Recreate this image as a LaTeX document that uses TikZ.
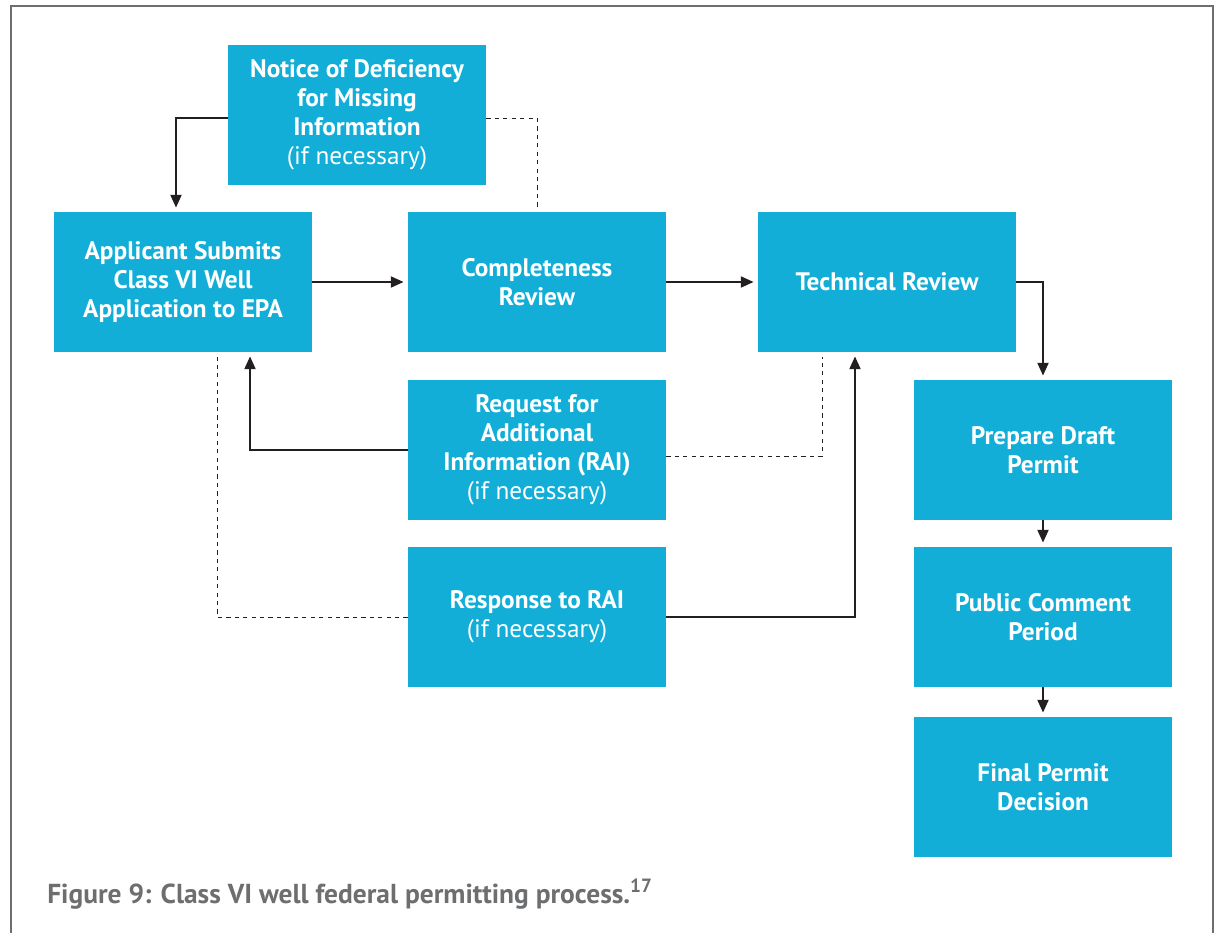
\documentclass[tikz,border=0pt]{standalone}
\usepackage{fontspec}
\setmainfont{PT Sans}
\usepackage{xcolor}
\definecolor{stepFill}{RGB}{18, 174, 216}
\definecolor{lineDark}{RGB}{35, 31, 32}
\definecolor{frameGray}{RGB}{110, 110, 112}
\definecolor{captionGray}{RGB}{109, 110, 112}
\usepackage{tikz}
\usetikzlibrary{
    arrows.meta,
    positioning,
    calc
}

\begin{document}
\begin{tikzpicture}[
    x=0.025cm, y=-0.025cm,
    stepBox/.style={
        rectangle, draw=none,
        fill=stepFill, text=white,
        align=center, font=\fontsize{18}{20.6}\selectfont\bfseries,
        inner sep=4pt, minimum width=6.45cm, minimum height=3.5cm
    },
    flowArrow/.style={
        -{Triangle[length=9pt, width=8pt]}, line width=0.8pt, draw=lineDark,
        shorten >=3pt
    },
    dashLink/.style={
        line width=0.7pt, draw=lineDark, dash pattern=on 3pt off 3pt
    }
]

    % Page frame and caption
    \useasboundingbox (0,0) rectangle (1216,933);
    \draw[frameGray, line width=0.9pt] (11,940) -- (11,6) -- (1213,6) -- (1213,940);
    \node[anchor=base west, inner sep=0pt, text=captionGray,
          font=\fontsize{19.5}{22}\selectfont\bfseries] (caption) at (47,903)
        {Figure 9: Class VI well federal permitting process.\textsuperscript{17}};

    % Main line of steps
    \node[stepBox] (notice) at (357,115) {
        Notice of Deficiency\\ for Missing\\ Information\\
        {\mdseries (if necessary)}
    };
    \node[stepBox] (applicant) at (183,282) {
        Applicant Submits\\ Class VI Well\\ Application to EPA
    };
    \node[stepBox] (complete) at (537,282) {Completeness\\ Review};
    \node[stepBox] (technical) at (887,282) {Technical Review};

    % Requests in the middle column
    \node[stepBox] (rai) at (537,450) {
        Request for\\ Additional\\ Information (RAI)\\
        {\mdseries (if necessary)}
    };
    \node[stepBox] (response) at (537,617) {
        Response to RAI\\ {\mdseries (if necessary)}
    };

    % Right column: permit stages
    \node[stepBox] (draft) at (1043,450) {Prepare Draft\\ Permit};
    \node[stepBox] (comment) at (1043,617) {Public Comment\\ Period};
    \node[stepBox] (decision) at (1043,787) {Final Permit\\ Decision};

    % Connectors
    \draw[flowArrow] (applicant) -- (complete);
    \draw[flowArrow] (complete) -- (technical);
    \draw[flowArrow] (technical.east) -| (draft.north);
    \draw[flowArrow] (draft) -- (comment);
    \draw[flowArrow] (comment) -- (decision);

    \draw[flowArrow] ([yshift=-0.075cm]notice.west) -| ([xshift=-0.175cm]applicant.north);
    \draw[dashLink] ([yshift=-0.075cm]notice.east) -| ([yshift=0.1cm]complete.north);

    \draw[flowArrow] (rai.west) -| ([xshift=1.675cm]applicant.south);
    \draw[dashLink] ([yshift=-0.15cm]rai.east) -| ([xshift=-1.625cm, yshift=-0.125cm]technical.south);

    \draw[dashLink] (response.west) -| ([xshift=0.85cm, yshift=-0.125cm]applicant.south);
    \draw[flowArrow] (response.east) -| ([xshift=-0.8cm]technical.south);

\end{tikzpicture}
\end{document}
